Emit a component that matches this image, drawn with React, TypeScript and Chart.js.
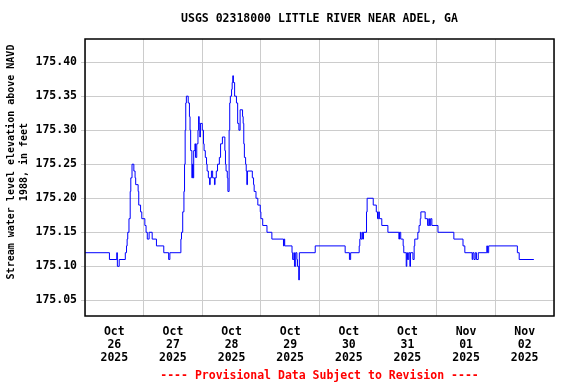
import { useEffect, useRef } from 'react';
import { Chart, registerables } from 'chart.js';

Chart.register(...registerables);

const TITLE = 'USGS 02318000 LITTLE RIVER NEAR ADEL, GA';
const Y_TITLE = ['Stream water level elevation above NAVD', '1988, in feet'];
const FOOTER = '---- Provisional Data Subject to Revision ----';

// x axis: hours since 2025-10-26 00:00
const X_MIN = 0;
const X_MAX = 192;
const xTickHours = [0, 12, 24, 36, 48, 60, 72, 84, 96, 108, 120, 132, 144, 156, 168, 180, 192];
const dayLabels = [
  ['Oct', '26', '2025'],
  ['Oct', '27', '2025'],
  ['Oct', '28', '2025'],
  ['Oct', '29', '2025'],
  ['Oct', '30', '2025'],
  ['Oct', '31', '2025'],
  ['Nov', '01', '2025'],
  ['Nov', '02', '2025'],
];

const Y_MIN = 175.027;
const Y_MAX = 175.434;
const yTicks = [175.05, 175.1, 175.15, 175.2, 175.25, 175.3, 175.35, 175.4];

const hours = [
  0, 10, 13, 13.25, 14, 16.5, 17, 17.25, 17.5, 18, 18.5, 18.75, 19.25, 20, 20.5, 20.75, 21.75, 22, 22.75, 23.25,
  24.5, 25, 25.5, 26.25, 27.5, 29.25, 32.25, 34.25, 34.75, 39.25, 39.5, 40, 40.5, 40.75, 41, 41.25, 41.5, 42.25, 42.75, 43,
  43.25, 43.75, 44, 44.25, 44.5, 45, 45.25, 45.75, 46.25, 46.5, 46.75, 47, 47.25,
  48, 48.5, 48.75, 49.25, 49.75, 50, 50.5, 51, 51.25, 51.75, 52.25, 53, 53.25, 53.75, 54.25, 55, 55.5, 56.25, 57.25,
  57.5, 57.75, 58.25, 58.5, 59, 59.25, 59.5, 60, 60.25, 60.5, 60.75, 61.25, 62, 62.5, 63, 63.5, 64.5, 64.75, 65,
  65.25, 65.75, 66, 66.25, 66.5, 68.5, 69, 69.25, 70, 70.75, 71.75,
  72, 72.75, 74.5, 76.5, 81.25, 81.5, 81.75, 84.75, 85, 85.5, 85.75, 86.25, 86.75, 87, 87.5, 87.75, 94.25,
  106.5, 108.25, 108.75, 112.25, 112.5, 112.75, 113, 113.5, 113.75, 114, 115.25, 115.5, 118,
  119.25, 119.75, 120.25, 120.5, 121.5, 124, 128.5, 128.75, 129.25, 130.25, 130.5, 131.5, 131.75, 132, 132.5, 133,
  133.25, 134.25, 134.75, 135, 136.25, 136.75, 137.25, 137.5, 139.25, 140.25, 140.75, 141, 141.5, 142,
  144.5, 151, 154.75, 155.5, 158.5, 158.75, 159.25, 159.75, 160.25, 161, 164.5, 164.75, 165.25, 177, 177.75, 183.75,
];

const levels = [
  175.12, 175.11, 175.12, 175.10, 175.11, 175.12, 175.13, 175.14, 175.15, 175.17, 175.21, 175.23, 175.25, 175.24, 175.23, 175.22, 175.21, 175.19, 175.18, 175.17,
  175.16, 175.15, 175.14, 175.15, 175.14, 175.13, 175.12, 175.11, 175.12, 175.14, 175.15, 175.18, 175.21, 175.25, 175.30, 175.34, 175.35, 175.34, 175.32, 175.30,
  175.27, 175.23, 175.25, 175.23, 175.27, 175.28, 175.26, 175.28, 175.30, 175.32, 175.31, 175.29, 175.31,
  175.30, 175.28, 175.27, 175.26, 175.25, 175.24, 175.23, 175.22, 175.23, 175.24, 175.23, 175.22, 175.23, 175.24, 175.25, 175.26, 175.28, 175.29, 175.27,
  175.25, 175.24, 175.23, 175.21, 175.30, 175.34, 175.35, 175.36, 175.37, 175.38, 175.37, 175.35, 175.34, 175.31, 175.30, 175.33, 175.32, 175.31, 175.28,
  175.26, 175.25, 175.24, 175.22, 175.24, 175.23, 175.22, 175.21, 175.20, 175.19, 175.18,
  175.17, 175.16, 175.15, 175.14, 175.13, 175.14, 175.13, 175.12, 175.11, 175.12, 175.10, 175.12, 175.11, 175.10, 175.08, 175.12, 175.13,
  175.12, 175.11, 175.12, 175.13, 175.14, 175.15, 175.14, 175.15, 175.14, 175.15, 175.18, 175.20, 175.19,
  175.18, 175.17, 175.18, 175.17, 175.16, 175.15, 175.14, 175.15, 175.14, 175.13, 175.12, 175.10, 175.12, 175.11, 175.12, 175.10,
  175.12, 175.11, 175.13, 175.14, 175.15, 175.16, 175.17, 175.18, 175.17, 175.16, 175.17, 175.16, 175.17, 175.16,
  175.15, 175.14, 175.13, 175.12, 175.11, 175.12, 175.11, 175.12, 175.11, 175.12, 175.13, 175.12, 175.13, 175.12, 175.11, 175.11,
];

const FONT = "'DejaVu Sans Mono', monospace";

const decor = {
  id: 'decor',
  afterDraw(chart: any) {
    const { ctx, chartArea: a } = chart;
    ctx.save();
    ctx.strokeStyle = '#000';
    ctx.lineWidth = 1.5;
    ctx.strokeRect(a.left, a.top, a.right - a.left, a.bottom - a.top);
    const cx = (a.left + a.right) / 2;
    ctx.textAlign = 'center';
    ctx.textBaseline = 'middle';
    ctx.font = `bold 11.5px ${FONT}`;
    ctx.fillStyle = '#000';
    ctx.fillText(TITLE, cx, 19);
    ctx.fillStyle = '#ff0000';
    ctx.fillText(FOOTER, cx, 376);
    ctx.fillStyle = '#000';
    ctx.font = `bold 10px ${FONT}`;
    ctx.translate(11, 162);
    ctx.rotate(-Math.PI / 2);
    ctx.fillText(Y_TITLE[0], 0, 0);
    ctx.fillText(Y_TITLE[1], 0, 13);
    ctx.restore();
  },
};

export default function App() {
  const ref = useRef<HTMLCanvasElement | null>(null);

  useEffect(() => {
    if (!ref.current) return;
    const chart = new Chart(ref.current, {
      type: 'line',
      data: {
        datasets: [
          {
            data: hours.map((h, i) => ({ x: h, y: levels[i] })),
            borderColor: '#0000ff',
            borderWidth: 1,
            pointRadius: 0,
            stepped: true,
            fill: false,
          },
        ],
      },
      options: {
        animation: false,
        responsive: false,
        maintainAspectRatio: false,
        layout: { padding: { top: 39, right: 22, left: 0, bottom: 0 } },
        plugins: {
          legend: { display: false },
          tooltip: { enabled: false },
          title: { display: false },
        },
        scales: {
          x: {
            type: 'linear',
            min: X_MIN,
            max: X_MAX,
            border: { display: false },
            grid: {
              drawTicks: false,
              lineWidth: 1,
              color: (c: any) => (c.tick && c.tick.value % 24 === 0 ? '#cccccc' : 'rgba(0,0,0,0)'),
            },
            ticks: {
              autoSkip: false,
              maxRotation: 0,
              minRotation: 0,
              padding: 10,
              color: '#000',
              font: { family: FONT, size: 11.5, weight: 'bold', lineHeight: 1.12 },
              callback: (v: any) => {
                const n = Number(v);
                return n % 24 === 12 ? dayLabels[(n - 12) / 24] : '';
              },
            },
            afterBuildTicks: (axis: any) => {
              axis.ticks = xTickHours.map((v) => ({ value: v }));
            },
            afterFit: (axis: any) => {
              axis.height = 68;
            },
          },
          y: {
            type: 'linear',
            min: Y_MIN,
            max: Y_MAX,
            border: { display: false },
            grid: { color: '#cccccc', lineWidth: 1, tickLength: 4 },
            ticks: {
              padding: 4,
              color: '#000',
              font: { family: FONT, size: 11.5, weight: 'bold' },
              callback: (v: any) => Number(v).toFixed(2),
            },
            afterBuildTicks: (axis: any) => {
              axis.ticks = yTicks.map((v) => ({ value: v }));
            },
            afterFit: (axis: any) => {
              axis.width = 85;
            },
          },
        },
      },
      plugins: [decor],
    });
    return () => chart.destroy();
  }, []);

  return (
    <div style={{ position: 'fixed', left: 0, top: 0, width: 576, height: 384, background: '#fff' }}>
      <canvas ref={ref} width={576} height={384} style={{ width: 576, height: 384 }} />
    </div>
  );
}
